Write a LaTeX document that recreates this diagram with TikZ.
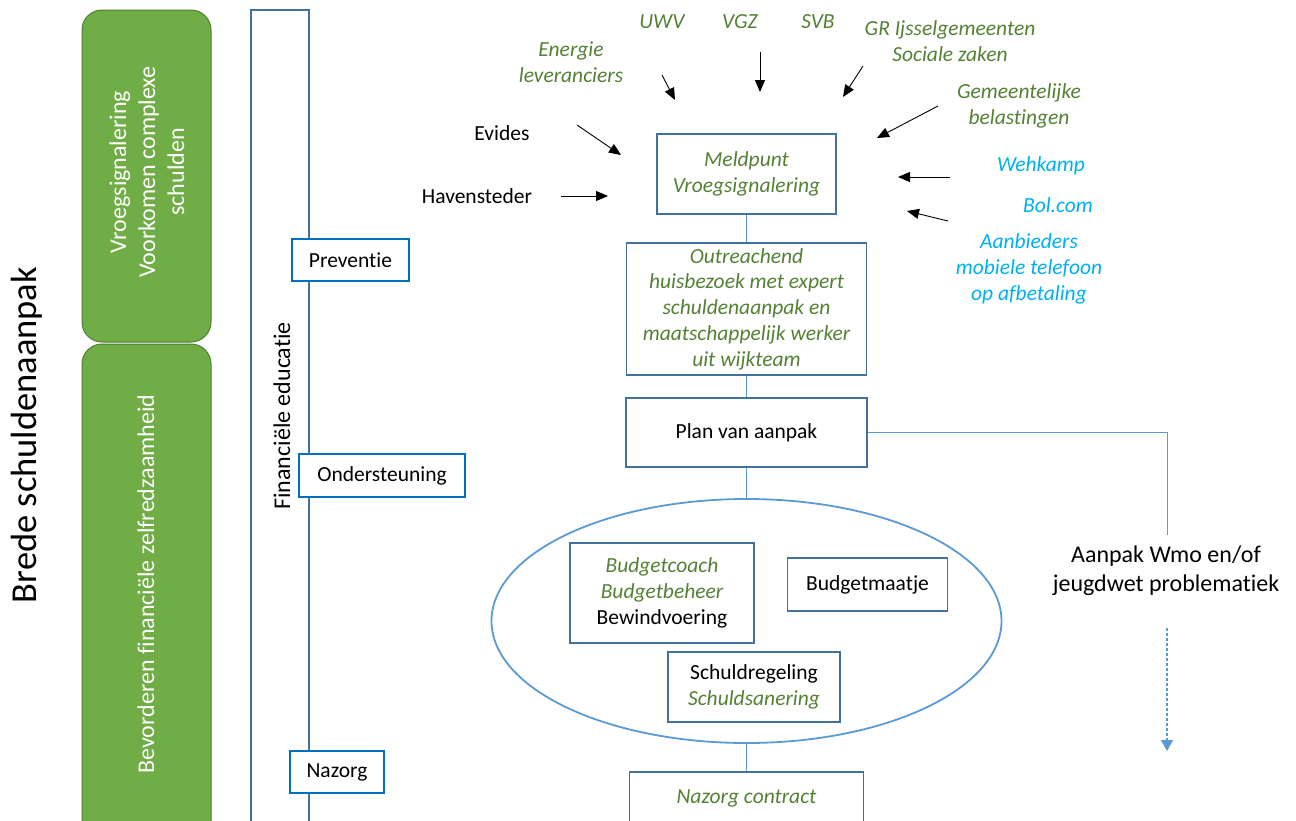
\documentclass[tikz,border=0pt]{standalone}
\usepackage{fontspec}
\setmainfont{Carlito}[Ligatures={NoCommon}]
\usetikzlibrary{arrows.meta,shapes.geometric}
\definecolor{gfill}{HTML}{70AD47}
\definecolor{gdraw}{HTML}{507E32}
\definecolor{gtext}{HTML}{548235}
\definecolor{btext}{HTML}{00B0F0}
\definecolor{boxc}{HTML}{41719C}
\definecolor{tabc}{HTML}{0070C0}
\definecolor{connc}{HTML}{5B9BD5}
\newcommand\fsN{\fontsize{21.5}{25.8}\selectfont}
\newcommand\fsL{\fontsize{24}{29}\selectfont}
\newcommand\fsXL{\fontsize{36.5}{44}\selectfont}
\begin{document}
\begin{tikzpicture}[x=1pt,y=-1pt,
  flowbox/.style={draw=boxc, line width=1.6pt, fill=white, inner sep=0pt, align=center, font=\fsN},
  tabbox/.style={draw=tabc, line width=1.6pt, fill=white, inner sep=0pt, font=\fsN},
  greenbox/.style={draw=gdraw, line width=1pt, fill=gfill, rounded corners=20pt},
  gi/.style={text=gtext, font=\fsN\itshape, align=center},
  bi/.style={text=btext, font=\fsN\itshape, align=center},
  plain/.style={text=black, font=\fsN, align=center},
  conn/.style={draw=connc, line width=1pt},
  inarrow/.style={draw=black, line width=0.9pt, -{Triangle[length=12pt,width=10pt]}},
  vtext/.style={rotate=90, text=white, font=\fsL, align=center},
]
\clip (0,0) rectangle (1296,820);
\fill[white] (0,0) rectangle (1296,820);

% left title
\node[rotate=90, anchor=base, font=\fsXL] (title) at (36.7,435) {Brede schuldenaanpak};

% green boxes
\draw[greenbox] (82,10) rectangle (211,342);
\draw[greenbox] (82,344) rectangle (211,870);
\node[vtext] (g1) at (147,172) {Vroegsignalering\\Voorkomen complexe\\schulden};
\node[vtext, anchor=base] (g2) at (154,584) {Bevorderen financiële zelfredzaamheid};

% tall frame
\draw[draw=boxc, line width=1.5pt] (251,870) -- (251,10) -- (309,10) -- (309,870);
\node[rotate=90, anchor=base, font=\fsL] (fin) at (290,416) {Financiële educatie};

% tabs
\node[tabbox, minimum width=117pt, minimum height=42pt] (prev) at (350.5,260) {Preventie};
\node[tabbox, minimum width=166pt, minimum height=43pt] (onder) at (382,475.5) {Ondersteuning};
\node[tabbox, minimum width=94pt, minimum height=42pt] (naz) at (337,772) {Nazorg};

% flow
\node[flowbox, gi, minimum width=179pt, minimum height=80pt] (meld) at (746.5,174) {Meldpunt\\Vroegsignalering};
\node[flowbox, gi, minimum width=240pt, minimum height=132pt] (outr) at (746.5,309) {Outreachend\\huisbezoek met expert\\schuldenaanpak en\\maatschappelijk werker\\uit wijkteam};
\node[flowbox, minimum width=241pt, minimum height=69pt] (plan) at (746.5,432.5) {Plan van aanpak};
\node[draw=connc, line width=1.8pt, ellipse, minimum width=510pt, minimum height=244pt, inner sep=0pt] (ell) at (746.5,621) {};
\node[flowbox, minimum width=184pt, minimum height=100pt] (bc) at (662,593) {\textcolor{gtext}{\itshape Budgetcoach}\\\textcolor{gtext}{\itshape Budgetbeheer}\\Bewindvoering};
\node[flowbox, minimum width=160pt, minimum height=53pt] (bm) at (867.5,584.5) {Budgetmaatje};
\node[flowbox, minimum width=172pt, minimum height=70pt] (sr) at (754,687) {Schuldregeling\\\textcolor{gtext}{\itshape Schuldsanering}};
\node[flowbox, gi, minimum width=234pt, minimum height=52pt] (nc) at (746.5,798) {Nazorg contract};

\draw[conn] (meld.south) -- (outr.north);
\draw[conn] (outr.south) -- (plan.north);
\draw[conn] (plan.south) -- (ell.north);
\draw[conn] (ell.south) -- (nc.north);

% right branch
\node[plain, font=\fsL] (wmo) at (1166,571) {Aanpak Wmo en/of\\jeugdwet problematiek};
\coordinate (wmoTop) at (1167,535);
\coordinate (wmoA) at (1167,628);
\coordinate (wmoB) at (1167,751);
\draw[conn] (plan.east) -| (wmoTop);
\draw[conn, line width=1.2pt, dash pattern=on 3pt off 2pt, -{Triangle[length=11pt,width=12pt]}] (wmoA) -- (wmoB);

% sources
\node[gi] (uwv) at (662,22) {UWV};
\node[gi] (vgz) at (740,22) {VGZ};
\node[gi] (svb) at (818,22) {SVB};
\node[gi] (gr) at (950,41) {GR Ijsselgemeenten\\Sociale zaken};
\node[gi] (energie) at (571,62) {Energie\\leveranciers};
\node[gi] (gem) at (1019,106) {Gemeentelijke\\belastingen};
\node[plain] (evides) at (502,133) {Evides};
\node[plain] (haven) at (477,196) {Havensteder};
\node[bi] (wehk) at (1041,166) {Wehkamp};
\node[bi] (bol) at (1058,205) {Bol.com};
\node[bi] (aanb) at (1029,269) {Aanbieders\\mobiele telefoon\\op afbetaling};

% arrows
\coordinate (a1s) at (662,75);  \coordinate (a1e) at (675,100);
\coordinate (a2s) at (760,52);  \coordinate (a2e) at (760,92);
\coordinate (a3s) at (863,66);  \coordinate (a3e) at (843,97);
\coordinate (a4s) at (938,106); \coordinate (a4e) at (877,138);
\coordinate (a5s) at (577,125); \coordinate (a5e) at (621,155);
\coordinate (a6s) at (561,196); \coordinate (a6e) at (608,196);
\coordinate (a7s) at (950,177); \coordinate (a7e) at (898,177);
\coordinate (a8s) at (948,221); \coordinate (a8e) at (907,211);
\foreach \i in {1,...,8} {\draw[inarrow] (a\i s) -- (a\i e);}
\end{tikzpicture}
\end{document}
